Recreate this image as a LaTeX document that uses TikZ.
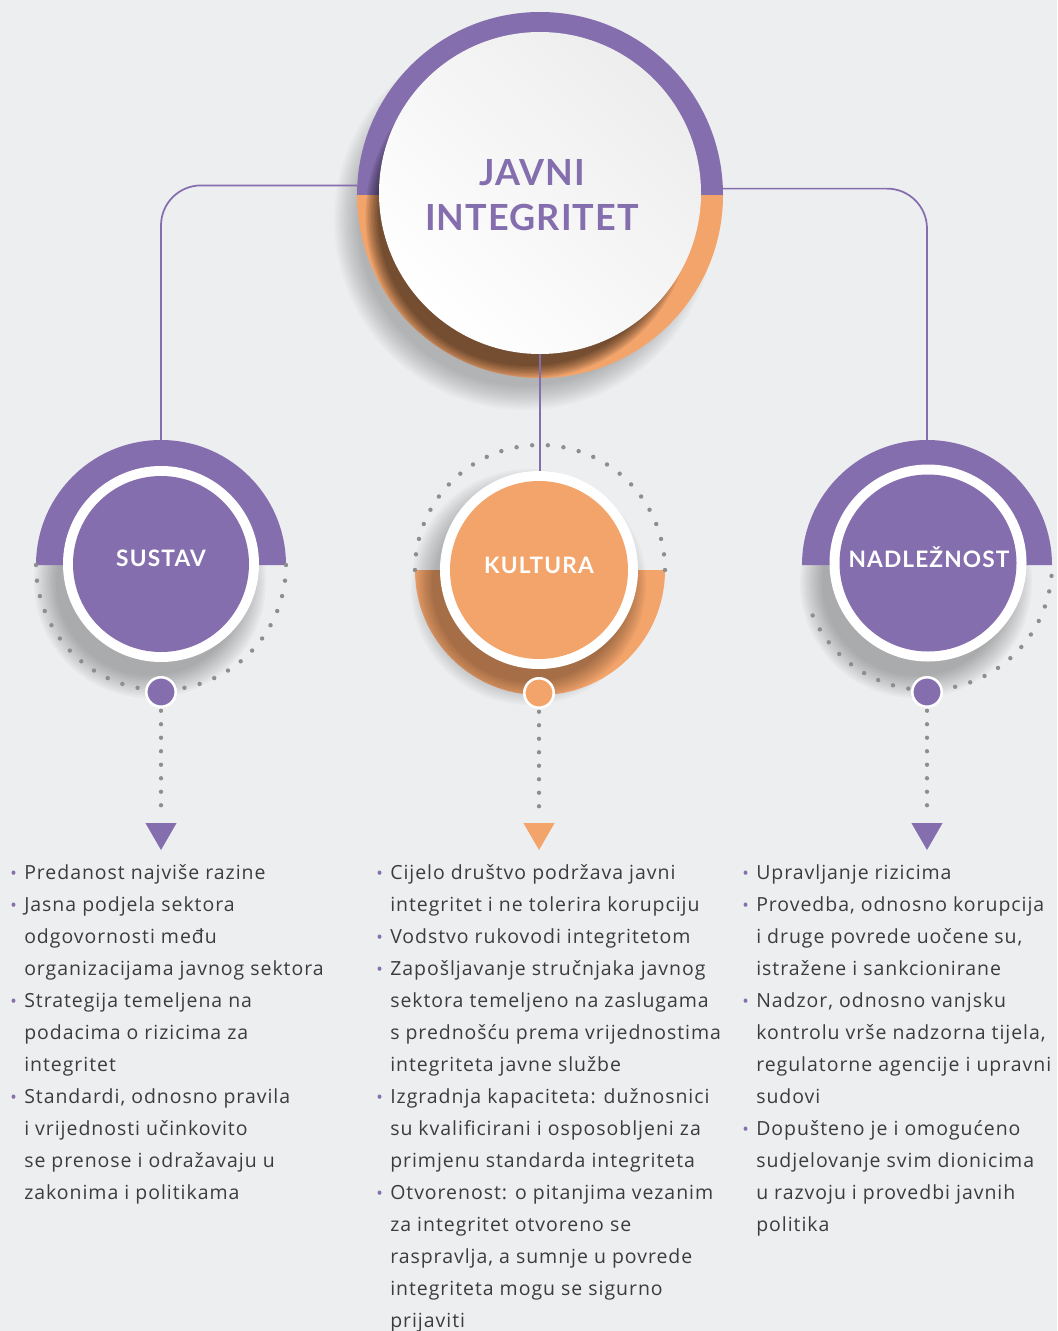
\documentclass[tikz,border=0pt]{standalone}
\usepackage{fontspec}
\setmainfont{Lato}
\newfontfamily\ttlfont[LetterSpace=3]{Lato}
\newfontfamily\lblfont[LetterSpace=5]{Lato}
\newfontfamily\bodyfont[LetterSpace=5]{Open Sans}
\usetikzlibrary{shapes.geometric,calc}
\definecolor{bg}{HTML}{EDEEF0}
\definecolor{pur}{HTML}{856EAE}
\definecolor{ora}{HTML}{F3A46B}
\definecolor{dotg}{HTML}{8E8E8E}
\definecolor{txt}{HTML}{3C3C3C}
\newcommand\lb[1]{\hbox{\llap{\textcolor{pur}{\fontsize{13}{13}\selectfont •}\hspace{5.5pt}}#1}}
\newcommand\lc[1]{\hbox{#1}}
\newcommand\colbox[1]{\vtop{\baselineskip=24pt\lineskiplimit=-20pt #1}}
\tikzset{
  namecirc/.style={circle,inner sep=0pt,outer sep=0pt,draw=none,minimum size=#1},
  conn/.style={draw=pur,line width=1.3pt,rounded corners=30pt},
  dotline/.style={draw=dotg,line width=3.2pt,line cap=round,dash pattern=on 0pt off 10.125pt},
  smalldot/.style={circle,inner sep=0pt,outer sep=0pt,draw=white,line width=1.9pt,minimum size=22.1pt,fill=#1},
  tri/.style={regular polygon,regular polygon sides=3,shape border rotate=180,inner sep=0pt,outer sep=0pt,minimum size=27pt,fill=#1},
  lbl/.style={text=white,font=\lblfont\bfseries\fontsize{17}{20}\selectfont,inner sep=0pt},
  coltext/.style={anchor=base west,inner sep=0pt,text=txt,font=\bodyfont\fontsize{14.6}{24}\selectfont}
}
\begin{document}
\begin{tikzpicture}[x=0.75pt,y=-0.75pt]
\fill[bg] (0,0) rectangle (1057,1331);
\useasboundingbox (0,0) rectangle (1057,1331);

% ---- name nodes ----
\node[namecirc=274.5pt] (main) at (540,195) {};
\node[namecirc=241.5pt] (mainin) at (540,193) {};
\node[namecirc=187.5pt] (sustavbg) at (161,565) {};
\node[namecirc=148.5pt] (kultura) at (540,570) {};
\node[namecirc=187.5pt] (nadlbg) at (927,565) {};

% ---- main circle ----
\foreach \k in {0,...,12} \fill[black,opacity=0.02] (524,220) circle[radius={166+2*\k}];
\fill[pur] (357,195) arc (180:360:183) -- cycle;
\fill[ora] (723,195) arc (0:180:183) -- cycle;
\begin{scope}
  \clip (540,195) circle[radius=183];
  \foreach \k in {0,...,9} \fill[black,opacity=0.065] (528,216) circle[radius={150+1.4*\k}];
\end{scope}
\shade[top color=black!7,bottom color=white,shading angle=-45] (540,193) circle[radius=161];
\node[text=pur,align=center,font=\ttlfont\bfseries\fontsize{27}{33.75}\selectfont,inner sep=0pt] (title) at (532,195) {JAVNI\\INTEGRITET};

% ---- connectors ----
\draw[conn] (main.177.5) -| (sustavbg.north);
\draw[conn] (main.2.5) -| (nadlbg.north);
\draw[conn,rounded corners=0pt] (mainin.south) -- (kultura.north);

% ---- SUSTAV ----
\foreach \k in {0,...,10} \fill[black,opacity=0.026] (150,582) circle[radius={94+2.2*\k}];
\fill[pur] (36,565) arc (180:360:125) -- cycle;
\foreach \a in {0,7.2,...,180.1} \fill[dotg] (161,565) ++(\a:125) circle[radius=2.2];
\fill[white] (161,564) circle[radius=98];
\fill[pur] (161,564) circle[radius=88];
\node[lbl] (sustav) at (161,558) {SUSTAV};
\node[smalldot=pur] (sdot) at (161,692) {};
\node[tri=pur] (stri) at (161,832) {};
\draw[dotline,shorten <=3pt,shorten >=3.5pt] (sdot.south) -- (stri.north);

% ---- KULTURA ----
\foreach \k in {0,...,10} \fill[black,opacity=0.022] (529,587) circle[radius={96+2.2*\k}];
\fill[ora] (415,570) arc (180:0:125) -- cycle;
\begin{scope}
  \clip (415,570) arc (180:0:125) -- cycle;
  \foreach \k in {0,...,9} \fill[black,opacity=0.035] (530,584) circle[radius={98+2*\k}];
\end{scope}
\foreach \a in {180,187.2,...,360.1} \fill[dotg] (540,570) ++(\a:125) circle[radius=2.2];
\fill[white] (539,570) circle[radius=99];
\fill[ora] (539,570) circle[radius=89];
\node[lbl] (kult) at (539,565) {KULTURA};
\node[smalldot=ora] (kdot) at (539,693) {};
\node[tri=ora] (ktri) at (539,832) {};
\draw[dotline,shorten <=3pt,shorten >=3.5pt] (kdot.south) -- (ktri.north);

% ---- NADLEZNOST ----
\foreach \k in {0,...,10} \fill[black,opacity=0.026] (916,582) circle[radius={94+2.2*\k}];
\fill[pur] (802,565) arc (180:360:125) -- cycle;
\foreach \a in {5,12.2,...,156.3} \fill[dotg] (927,565) ++(\a:125) circle[radius=2.2];
\fill[white] (928,563) circle[radius=98.5];
\fill[pur] (928,563) circle[radius=88.5];
\node[lbl] (nadl) at (929,557) {NADLEŽNOST};
\node[smalldot=pur] (ndot) at (927,692) {};
\node[tri=pur] (ntri) at (927,832) {};
\draw[dotline,shorten <=3pt,shorten >=3.5pt] (ndot.south) -- (ntri.north);

% ---- text columns ----
\node[coltext] (col1) at (24,879) {\colbox{%
\lb{Predanost najviše razine}
\lb{Jasna podjela sektora}
\lc{odgovornosti među}
\lc{organizacijama javnog sektora}
\lb{Strategija temeljena na}
\lc{podacima o rizicima za}
\lc{integritet}
\lb{Standardi, odnosno pravila}
\lc{i vrijednosti učinkovito}
\lc{se prenose i odražavaju u}
\lc{zakonima i politikama}}};

\node[coltext] (col2) at (390,879) {\colbox{%
\lb{Cijelo društvo podržava javni}
\lc{integritet i ne tolerira korupciju}
\lb{Vodstvo rukovodi integritetom}
\lb{Zapošljavanje stručnjaka javnog}
\lc{sektora temeljeno na zaslugama}
\lc{s prednošću prema vrijednostima}
\lc{integriteta javne službe}
\lb{Izgradnja kapaciteta: dužnosnici}
\lc{su kvalificirani i osposobljeni za}
\lc{primjenu standarda integriteta}
\lb{Otvorenost: o pitanjima vezanim}
\lc{za integritet otvoreno se}
\lc{raspravlja, a sumnje u povrede}
\lc{integriteta mogu se sigurno}
\lc{prijaviti}}};

\node[coltext] (col3) at (756,879) {\colbox{%
\lb{Upravljanje rizicima}
\lb{Provedba, odnosno korupcija}
\lc{i druge povrede uočene su,}
\lc{istražene i sankcionirane}
\lb{Nadzor, odnosno vanjsku}
\lc{kontrolu vrše nadzorna tijela,}
\lc{regulatorne agencije i upravni}
\lc{sudovi}
\lb{Dopušteno je i omogućeno}
\lc{sudjelovanje svim dionicima}
\lc{u razvoju i provedbi javnih}
\lc{politika}}};
\end{tikzpicture}
\end{document}
